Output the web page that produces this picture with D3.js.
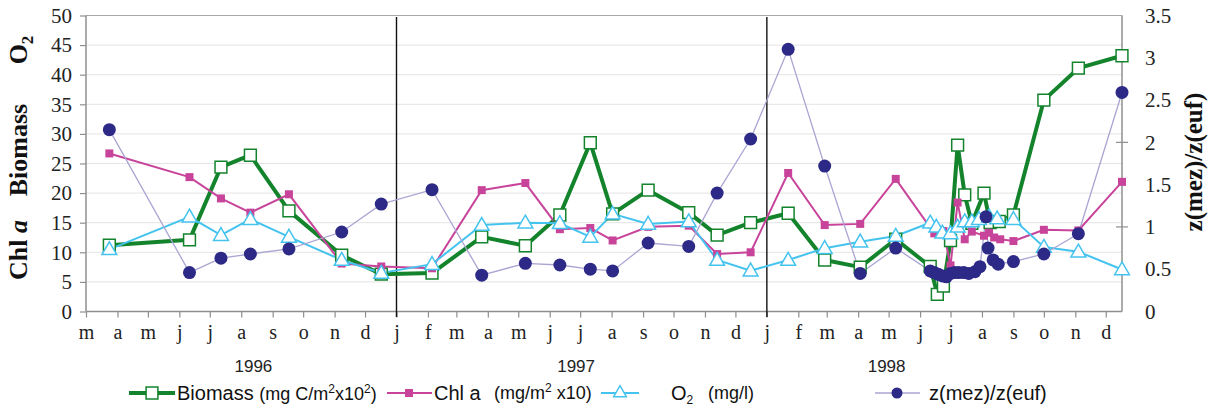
<!DOCTYPE html>
<html><head><meta charset="utf-8">
<script src="https://cdn.jsdelivr.net/npm/d3@7"></script>
<style>body{margin:0;background:#fff}svg{display:block}</style>
</head><body><svg id="c" width="1213" height="409"></svg>
<script>
// ---------- data ----------
const monthLabels = ["m","a","m","j","j","a","s","o","n","d",
  "j","f","m","a","m","j","j","a","s","o","n","d",
  "j","f","m","a","m","j","j","a","s","o","n","d"];
const yearLabels = ["1996","1997","1998"];
const yearLabelDates = ["1996-08-13","1997-06-27","1998-04-29"];
const leftTicks = [0,5,10,15,20,25,30,35,40,45,50];
const rightTicks = [0,0.5,1,1.5,2,2.5,3,3.5];

// common sampling dates (Mar 1996 - May 1998)
const mainDates = ["1996-03-24","1996-06-11","1996-07-12","1996-08-10","1996-09-17","1996-11-08","1996-12-17",
  "1997-02-05","1997-03-26","1997-05-08","1997-06-11","1997-07-11","1997-08-02","1997-09-06","1997-10-16",
  "1997-11-13","1997-12-16","1998-01-22","1998-02-27","1998-04-03","1998-05-08"];

const biomassMain = [11.2,12.1,24.4,26.4,17.0,9.5,6.3, 6.5,12.6,11.1,16.3,28.5,16.5,20.5,16.7,12.9,15.0, 16.6,8.7,7.5,12.2];
const biomass98Dates = ["1998-06-11","1998-06-18","1998-06-24","1998-07-01","1998-07-08","1998-07-15","1998-07-22",
  "1998-08-03","1998-08-09","1998-08-18","1998-09-01","1998-10-01","1998-11-04","1998-12-17"];
const biomass98 = [7.6,2.9,4.3,12.0,28.1,19.7,14.9,20.0,15.0,15.2,16.3,35.7,41.1,43.2];

const chlMain = [26.7,22.7,19.1,16.7,19.8,8.1,7.6, 7.3,20.5,21.7,13.9,14.1,12.0,14.3,14.5,9.7,10.0, 23.4,14.6,14.8,22.4];
const chl98Dates = ["1998-06-15","1998-06-24","1998-07-01","1998-07-08","1998-07-15","1998-07-22","1998-08-03",
  "1998-08-08","1998-08-13","1998-08-19","1998-09-01","1998-10-01","1998-11-04","1998-12-17"];
const chl98 = [13.2,13.6,7.8,18.4,12.2,13.5,12.8,13.3,12.5,12.2,11.9,13.8,13.7,21.9];

const o2Main = [10.5,16.0,12.9,15.6,12.6,8.7,6.5, 8.0,14.6,15.0,14.9,12.6,16.5,14.8,15.2,8.7,6.9, 8.7,10.7,11.8,12.75];
const o298Dates = ["1998-06-11","1998-06-17","1998-06-23","1998-07-01","1998-07-08","1998-07-15","1998-07-22",
  "1998-07-29","1998-08-08","1998-08-16","1998-09-01","1998-10-01","1998-11-04","1998-12-17"];
const o298 = [15.0,14.3,13.3,13.2,14.3,15.2,15.2,15.6,16.0,15.7,15.6,10.9,10.1,7.1];

const zMain = [2.15,0.46,0.63,0.68,0.74,0.94,1.27, 1.44,0.43,0.57,0.55,0.50,0.48,0.81,0.77,1.40,2.04, 3.10,1.72,0.45,0.75];
const z98Dates = ["1998-06-11","1998-06-15","1998-06-19","1998-06-23","1998-06-27","1998-07-01","1998-07-05",
  "1998-07-09","1998-07-14","1998-07-19","1998-07-25","1998-07-30","1998-08-05","1998-08-07","1998-08-12",
  "1998-08-17","1998-09-01","1998-10-01","1998-11-04","1998-12-17"];
const z98 = [0.48,0.46,0.44,0.42,0.41,0.45,0.46,0.46,0.46,0.45,0.47,0.53,1.12,0.75,0.61,0.56,0.59,0.68,0.92,2.59];

const dividerDates = ["1997-01-01","1998-01-01"];

// ---------- setup ----------
const parse = d3.utcParse("%Y-%m-%d");
const svg = d3.select("#c");
const L = 86, R = 1122, T = 15.5, B = 311.5;
const x = d3.scaleUtc().domain([parse("1996-03-01"), parse("1998-12-17")]).range([L, R]);
const yL = d3.scaleLinear().domain([0,50]).range([B, T]);
const yR = d3.scaleLinear().domain([0,3.5]).range([B, T]);
const serif = "'Liberation Serif','Times New Roman',serif";
const sans = "'Liberation Sans',Arial,sans-serif";

const C = {bio:"#13832c", chl:"#c8449b", o2:"#45c3ef", zdot:"#2d2986", zline:"#aaa5d2", axis:"#8f8f8f", grid:"#e4e4e4"};

// gridlines
svg.append("g").selectAll("line").data(leftTicks.filter(v=>v>0 && v<50)).join("line")
  .attr("x1", L).attr("x2", R).attr("y1", d=>yL(d)).attr("y2", d=>yL(d))
  .attr("stroke", C.grid).attr("stroke-width", 1);
// top border
svg.append("line").attr("x1", L).attr("x2", R).attr("y1", yL(50)).attr("y2", yL(50)).attr("stroke", "#a8a8a8").attr("stroke-width", 1.2);

// left axis
const gL = svg.append("g").attr("transform", `translate(${L},0)`)
  .call(d3.axisLeft(yL).tickValues(leftTicks).tickSize(6).tickPadding(8).tickFormat(d3.format("d")));
gL.select(".domain").remove();
gL.selectAll(".tick line").attr("stroke", C.axis).attr("stroke-width", 1.2);
gL.selectAll(".tick text").attr("font-family", serif).attr("font-size", 21).attr("fill", "#222");

// right axis
const gR = svg.append("g").attr("transform", `translate(${R},0)`)
  .call(d3.axisRight(yR).tickValues(rightTicks).tickSize(0).tickPadding(23).tickFormat(d=>String(d)));
gR.select(".domain").remove();
gR.selectAll(".tick text").attr("font-family", serif).attr("font-size", 21).attr("fill", "#222");
svg.append("g").selectAll("line").data(rightTicks.filter(v=>Number.isInteger(v) && v>0)).join("line")
  .attr("x1", R-6).attr("x2", R+6).attr("y1", d=>yR(d)).attr("y2", d=>yR(d))
  .attr("stroke", C.axis).attr("stroke-width", 1.2);

// bottom axis
const monthTicks = d3.utcMonth.range(parse("1996-03-01"), parse("1999-01-01"));
const gB = svg.append("g").attr("transform", `translate(0,${B})`)
  .call(d3.axisBottom(x).tickValues(monthTicks).tickSize(6).tickPadding(7).tickFormat((d,i)=>monthLabels[i]));
gB.select(".domain").remove();
gB.selectAll(".tick line").attr("stroke", C.axis).attr("stroke-width", 1.2);
gB.selectAll(".tick text").attr("font-family", serif).attr("font-size", 20).attr("fill", "#222");

// year labels
svg.append("g").selectAll("text").data(yearLabels).join("text")
  .attr("x", (d,i)=>x(parse(yearLabelDates[i]))).attr("y", 372)
  .attr("text-anchor", "middle").attr("font-family", sans).attr("font-size", 17).attr("fill", "#222")
  .text(d=>d);

// axis lines
svg.append("line").attr("x1", L).attr("x2", L).attr("y1", T).attr("y2", B).attr("stroke", C.axis).attr("stroke-width", 1.5);
svg.append("line").attr("x1", R).attr("x2", R).attr("y1", T).attr("y2", B).attr("stroke", C.axis).attr("stroke-width", 1.5);
svg.append("line").attr("x1", L).attr("x2", R).attr("y1", B).attr("y2", B).attr("stroke", C.axis).attr("stroke-width", 1.5);

// year dividers
svg.append("g").selectAll("line").data(dividerDates).join("line")
  .attr("x1", d=>x(parse(d))).attr("x2", d=>x(parse(d))).attr("y1", 17).attr("y2", 317)
  .attr("stroke", "#111").attr("stroke-width", 1.4);

// ---------- series ----------
function build(d1, v1, d2, v2) {
  return d1.map((d,i)=>({date:parse(d), v:v1[i]})).concat(d2.map((d,i)=>({date:parse(d), v:v2[i]})));
}
const bio = build(mainDates, biomassMain, biomass98Dates, biomass98);
const chl = build(mainDates, chlMain, chl98Dates, chl98);
const o2 = build(mainDates, o2Main, o298Dates, o298);
const zz = build(mainDates, zMain, z98Dates, z98);

const lineL = d3.line().x(d=>x(d.date)).y(d=>yL(d.v));
const lineR = d3.line().x(d=>x(d.date)).y(d=>yR(d.v));

const sqOpen = d3.symbol().type(d3.symbolSquare).size(140);
const sqFill = d3.symbol().type(d3.symbolSquare).size(64);
const tri = d3.symbol().type(d3.symbolTriangle).size(95);
const triSmall = d3.symbol().type(d3.symbolTriangle).size(70);

// biomass
svg.append("path").datum(bio).attr("d", lineL).attr("fill","none").attr("stroke", C.bio).attr("stroke-width", 4).attr("stroke-linejoin","round");
// chl
svg.append("path").datum(chl).attr("d", lineL).attr("fill","none").attr("stroke", C.chl).attr("stroke-width", 2);
// o2
svg.append("path").datum(o2).attr("d", lineL).attr("fill","none").attr("stroke", C.o2).attr("stroke-width", 2);
// z
svg.append("path").datum(zz).attr("d", lineR).attr("fill","none").attr("stroke", C.zline).attr("stroke-width", 1.3);

svg.append("g").selectAll("path").data(bio).join("path")
  .attr("d", sqOpen).attr("transform", d=>`translate(${x(d.date)},${yL(d.v)})`)
  .attr("fill", "#fff").attr("stroke", C.bio).attr("stroke-width", 1.5);
svg.append("g").selectAll("path").data(chl).join("path")
  .attr("d", sqFill).attr("transform", d=>`translate(${x(d.date)},${yL(d.v)})`)
  .attr("fill", C.chl);
svg.append("g").selectAll("path").data(o2).join("path")
  .attr("d", tri).attr("transform", d=>`translate(${x(d.date)},${yL(d.v)+1})`)
  .attr("fill", "#fff").attr("stroke", C.o2).attr("stroke-width", 1.5);
svg.append("g").selectAll("circle").data(zz).join("circle")
  .attr("cx", d=>x(d.date)).attr("cy", d=>yR(d.v)).attr("r", 6.5)
  .attr("fill", C.zdot);

// ---------- axis titles ----------
const lt = svg.append("g").attr("font-family", serif).attr("font-weight", "bold").attr("font-size", 26).attr("fill", "#111");
const t1 = lt.append("text").attr("transform", "translate(27,250) rotate(-90)").attr("text-anchor", "middle");
t1.append("tspan").text("Chl ");
t1.append("tspan").attr("font-style", "italic").text("a");
lt.append("text").attr("transform", "translate(27,150) rotate(-90)").attr("text-anchor", "middle").text("Biomass");
const t3 = lt.append("text").attr("transform", "translate(27,50) rotate(-90)").attr("text-anchor", "middle");
t3.append("tspan").text("O");
t3.append("tspan").attr("font-size", 17).attr("dy", 6).text("2");

svg.append("text").attr("transform", "translate(1202,162) rotate(-90)").attr("text-anchor", "middle")
  .attr("font-family", serif).attr("font-weight", "bold").attr("font-size", 25).attr("fill", "#111")
  .text("z(mez)/z(euf)");

// ---------- legend ----------
const lg = svg.append("g").attr("font-family", sans).attr("fill", "#111");
const ly = 393;
// biomass
lg.append("line").attr("x1",129).attr("x2",175).attr("y1",ly).attr("y2",ly).attr("stroke",C.bio).attr("stroke-width",4);
lg.append("path").attr("d", sqOpen).attr("transform",`translate(152,${ly})`).attr("fill","#fff").attr("stroke",C.bio).attr("stroke-width",1.5);
const lt1 = lg.append("text").attr("x",177).attr("y",ly+7).attr("font-size",20);
lt1.append("tspan").text("Biomass ");
lt1.append("tspan").attr("font-size",18).text("(mg C/m");
lt1.append("tspan").attr("font-size",12).attr("dy",-7).text("2");
lt1.append("tspan").attr("font-size",18).attr("dy",7).text("x10");
lt1.append("tspan").attr("font-size",12).attr("dy",-7).text("2");
lt1.append("tspan").attr("font-size",18).attr("dy",7).text(")");
// chl
lg.append("line").attr("x1",387).attr("x2",432).attr("y1",ly).attr("y2",ly).attr("stroke",C.chl).attr("stroke-width",2);
lg.append("path").attr("d", sqFill).attr("transform",`translate(409,${ly})`).attr("fill",C.chl);
lg.append("text").attr("x",434).attr("y",ly+7).attr("font-size",20).text("Chl a");
const lt2 = lg.append("text").attr("x",494).attr("y",ly+6).attr("font-size",18);
lt2.append("tspan").text("(mg/m");
lt2.append("tspan").attr("font-size",12).attr("dy",-7).text("2");
lt2.append("tspan").attr("dy",7).text(" x10)");
// o2
lg.append("line").attr("x1",601).attr("x2",639).attr("y1",ly).attr("y2",ly).attr("stroke",C.o2).attr("stroke-width",2);
lg.append("path").attr("d", triSmall).attr("transform",`translate(620,${ly})`).attr("fill","#fff").attr("stroke",C.o2).attr("stroke-width",1.5);
const lt3 = lg.append("text").attr("x",671).attr("y",ly+7).attr("font-size",20);
lt3.append("tspan").text("O");
lt3.append("tspan").attr("font-size",12).attr("dy",4).text("2");
lg.append("text").attr("x",708).attr("y",ly+6).attr("font-size",18).text("(mg/l)");
// z
lg.append("line").attr("x1",875).attr("x2",920).attr("y1",ly).attr("y2",ly).attr("stroke",C.zline).attr("stroke-width",1.5);
lg.append("circle").attr("cx",897).attr("cy",ly).attr("r",5.5).attr("fill",C.zdot);
lg.append("text").attr("x",929).attr("y",ly+7).attr("font-size",20).text("z(mez)/z(euf)");
</script></body></html>
